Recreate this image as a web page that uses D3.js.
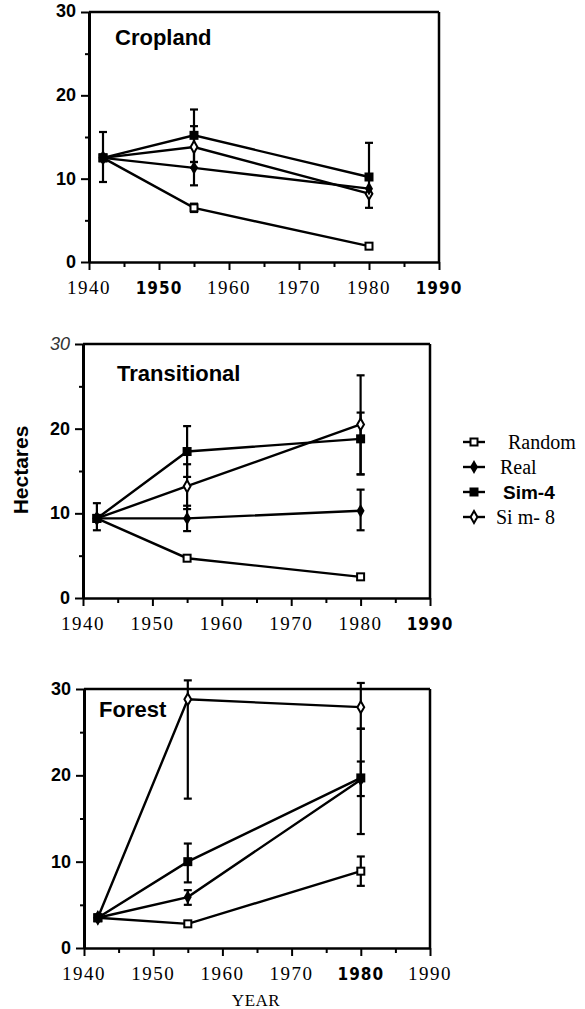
<!DOCTYPE html>
<html>
<head>
<meta charset="utf-8">
<script src="https://cdn.jsdelivr.net/npm/d3@7"></script>
<style>
  body { margin: 0; background: #fff; }
  svg { display: block; }
  .serif { font-family: "Liberation Serif", "DejaVu Serif", serif; }
  .sansb { font-family: "Liberation Sans", Arial, sans-serif; font-weight: bold; }
  .cond { font-family: "DejaVu Sans Condensed", "DejaVu Sans", sans-serif; font-weight: bold; }
</style>
</head>
<body>
<div id="chart"></div>
<script>
// shared data
var years = [1942, 1955, 1980];
var seriesNames = ["Random", "Real", "Sim-4", "Sim-8"];
var legendLabels = ["Random", "Real", "Sim-4", "Si m- 8"];
var xTicks = [1940, 1950, 1960, 1970, 1980, 1990];
var yTicks = [0, 10, 20, 30];

// Cropland
var cropRandom = [12.5, 6.5, 1.9];
var cropReal   = [12.5, 11.3, 8.8];
var cropSim4   = [12.5, 15.2, 10.2];
var cropSim8   = [12.5, 13.8, 8.2];
var cropRandomErr = [null, [6.0, 7.0], null];
var cropRealErr   = [[9.6, 15.6], [9.2, 12.0], null];
var cropSim4Err   = [null, [12.0, 18.3], [6.5, 14.3]];
var cropSim8Err   = [null, [11.3, 16.3], null];
var cropBoldYears = [1950, 1990];

// Transitional
var tranRandom = [9.4, 4.7, 2.5];
var tranReal   = [9.4, 9.4, 10.3];
var tranSim4   = [9.4, 17.3, 18.8];
var tranSim8   = [9.4, 13.2, 20.5];
var tranRandomErr = [null, null, null];
var tranRealErr   = [[8.0, 11.2], [7.9, 10.9], [8.0, 12.8]];
var tranSim4Err   = [null, [14.3, 20.3], [14.6, 21.9]];
var tranSim8Err   = [null, [10.5, 15.8], [14.6, 26.3]];
var tranBoldYears = [1990];

// Forest
var forRandom = [3.5, 2.8, 8.9];
var forReal   = [3.5, 5.9, 19.5];
var forSim4   = [3.5, 10.0, 19.7];
var forSim8   = [3.5, 28.8, 27.9];
var forRandomErr = [null, null, [7.2, 10.6]];
var forRealErr   = [null, [5.0, 6.7], [17.6, 21.6]];
var forSim4Err   = [null, [7.6, 12.1], [13.2, 25.4]];
var forSim8Err   = [null, [17.3, 31.0], [25.4, 30.7]];
var forBoldYears = [1980];

var width = 585, height = 1009;
var svg = d3.select("#chart").append("svg")
    .attr("width", width).attr("height", height);

var panels = [
  { title: "Cropland", x0: 89, x1: 439, top: 12, bottom: 262, titleX: 115, titleY: 45,
    values: [cropRandom, cropReal, cropSim4, cropSim8],
    errs: [cropRandomErr, cropRealErr, cropSim4Err, cropSim8Err], bold: cropBoldYears },
  { title: "Transitional", x0: 83, x1: 430, top: 344, bottom: 598, titleX: 117, titleY: 381,
    values: [tranRandom, tranReal, tranSim4, tranSim8],
    errs: [tranRandomErr, tranRealErr, tranSim4Err, tranSim8Err], bold: tranBoldYears },
  { title: "Forest", x0: 84, x1: 430, top: 689, bottom: 948, titleX: 99, titleY: 717,
    values: [forRandom, forReal, forSim4, forSim8],
    errs: [forRandomErr, forRealErr, forSim4Err, forSim8Err], bold: forBoldYears }
];

// marker for each series
function drawMarker(g, i, x, y) {
    if (i == 0) {
        g.append("rect").attr("x", x - 3.5).attr("y", y - 3.5).attr("width", 7).attr("height", 7)
            .attr("fill", "#fff").attr("stroke", "#000").attr("stroke-width", 2);
    } else if (i == 1) {
        g.append("path").attr("d", d3.symbol().type(d3.symbolDiamond).size(55)())
            .attr("transform", "translate(" + x + "," + y + ")").attr("fill", "#000");
    } else if (i == 2) {
        g.append("rect").attr("x", x - 4.5).attr("y", y - 4.5).attr("width", 9).attr("height", 9)
            .attr("fill", "#000");
    } else {
        g.append("path").attr("d", d3.symbol().type(d3.symbolDiamond).size(40)())
            .attr("transform", "translate(" + x + "," + y + ")")
            .attr("fill", "#fff").attr("stroke", "#000").attr("stroke-width", 2);
    }
}

// draw order of markers so filled squares end on top
var markerOrder = [0, 3, 1, 2];

panels.forEach(function(p, pi) {
    var x = d3.scaleLinear().domain([1940, 1990]).range([p.x0, p.x1]);
    var y = d3.scaleLinear().domain([0, 30]).range([p.bottom, p.top]);
    var g = svg.append("g");

    // frame: top and right borders
    g.append("line").attr("x1", x(1940)).attr("x2", x(1990)).attr("y1", y(30)).attr("y2", y(30))
        .attr("stroke", "#000").attr("stroke-width", 2.5);
    g.append("line").attr("x1", x(1990)).attr("x2", x(1990)).attr("y1", y(30)).attr("y2", y(0))
        .attr("stroke", "#000").attr("stroke-width", 2.5);

    // x axis
    var xAxis = d3.axisBottom(x).tickValues(d3.range(1940, 1991, 5)).tickSize(0).tickFormat("");
    var gx = g.append("g").attr("transform", "translate(0," + y(0) + ")").call(xAxis);
    gx.select(".domain").attr("stroke-width", 2.5);
    gx.selectAll(".tick line").attr("y2", function(d) { return d % 10 == 0 ? 8 : 5; })
        .attr("stroke-width", 2);
    g.selectAll(".xlab").data(xTicks).enter().append("text")
        .attr("class", function(d) { return p.bold.indexOf(d) >= 0 ? "cond" : "serif"; })
        .attr("x", function(d) { return x(d); })
        .attr("y", y(0) + 32)
        .attr("text-anchor", "middle")
        .style("font-size", function(d) { return p.bold.indexOf(d) >= 0 ? "17px" : "19px"; })
        .style("letter-spacing", function(d) { return p.bold.indexOf(d) >= 0 ? "1px" : "1.5px"; })
        .text(function(d) { return d; });

    // y axis
    var yAxis = d3.axisLeft(y).tickValues(d3.range(0, 31, 5)).tickSize(0).tickFormat("");
    var gy = g.append("g").attr("transform", "translate(" + x(1940) + ",0)").call(yAxis);
    gy.select(".domain").attr("stroke-width", 3);
    gy.selectAll(".tick line").attr("x2", function(d) { return d % 10 == 0 ? -8 : -4; })
        .attr("stroke-width", 2);
    g.selectAll(".ylab").data(yTicks).enter().append("text")
        .attr("class", "sansb")
        .attr("x", x(1940) - 13)
        .attr("y", function(d) { return y(d) + 6; })
        .attr("text-anchor", "end")
        .style("font-size", "18px")
        .style("font-style", function(d) { return (pi == 1 && d == 30) ? "italic" : "normal"; })
        .style("font-weight", function(d) { return (pi == 1 && d == 30) ? "normal" : "bold"; })
        .attr("fill", function(d) { return (pi == 1 && d == 30) ? "#333" : "#000"; })
        .attr("dy", function(d) { return (pi == 0 && d == 30) ? -1 : 0; })
        .text(function(d) { return d; });

    // title
    g.append("text").attr("class", "sansb").attr("x", p.titleX).attr("y", p.titleY)
        .style("font-size", "22px").text(p.title);

    var line = d3.line().x(function(d, i) { return x(years[i]); }).y(function(d) { return y(d); });

    // series lines
    p.values.forEach(function(vals, si) {
        g.append("path").datum(vals).attr("d", line)
            .attr("fill", "none").attr("stroke", "#000").attr("stroke-width", 2.4);
    });

    // error bars
    p.errs.forEach(function(errs, si) {
        errs.forEach(function(e, i) {
            if (!e) return;
            var cx = x(years[i]);
            g.append("line").attr("x1", cx).attr("x2", cx).attr("y1", y(e[0])).attr("y2", y(e[1]))
                .attr("stroke", "#000").attr("stroke-width", 2.2);
            [e[0], e[1]].forEach(function(v) {
                g.append("line").attr("x1", cx - 4).attr("x2", cx + 4).attr("y1", y(v)).attr("y2", y(v))
                    .attr("stroke", "#000").attr("stroke-width", 2.2);
            });
        });
    });

    // markers
    markerOrder.forEach(function(si) {
        p.values[si].forEach(function(v, i) { drawMarker(g, si, x(years[i]), y(v)); });
    });
});

// Hectares label
svg.append("text").attr("class", "sansb")
    .attr("transform", "translate(28,470) rotate(-90)")
    .attr("text-anchor", "middle").style("font-size", "21px").text("Hectares");

// YEAR label
svg.append("text").attr("class", "serif").attr("x", 256).attr("y", 1006)
    .attr("text-anchor", "middle").style("font-size", "17px").style("letter-spacing", "0.5px")
    .text("YEAR");

// legend
var legendY = d3.scalePoint().domain(seriesNames).range([442, 517]);
var legend = svg.append("g");
seriesNames.forEach(function(s, i) {
    var ly = legendY(s);
    legend.append("line").attr("x1", 463).attr("x2", 485).attr("y1", ly).attr("y2", ly)
        .attr("stroke", "#000").attr("stroke-width", 2.4);
    drawMarker(legend, i, 474, ly);
    legend.append("text")
        .attr("class", i == 2 ? "sansb" : "serif")
        .attr("x", [508, 500, 503, 496][i])
        .attr("y", ly + 7)
        .style("font-size", i == 2 ? "19px" : "20px")
        .text(legendLabels[i]);
});
</script>
</body>
</html>
